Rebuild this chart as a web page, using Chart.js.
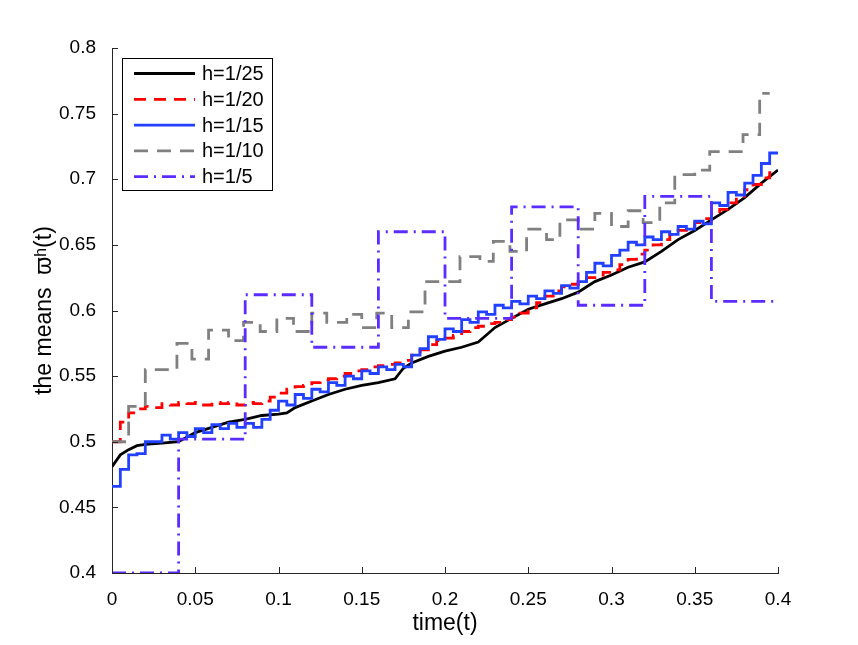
<!DOCTYPE html>
<html>
<head>
<meta charset="utf-8">
<script src="https://cdn.jsdelivr.net/npm/chart.js@4.4.0/dist/chart.umd.min.js"></script>
<style>body{margin:0;background:#fff}</style>
</head>
<body>
<canvas id="c" width="858" height="645"></canvas>
<script>
// series names
const seriesNames = ['h=1/25', 'h=1/20', 'h=1/15', 'h=1/10', 'h=1/5'];

// axis ticks
const xTicks = [0, 0.05, 0.1, 0.15, 0.2, 0.25, 0.3, 0.35, 0.4];
const yTicks = [0.4, 0.45, 0.5, 0.55, 0.6, 0.65, 0.7, 0.75, 0.8];

// h=1/25 (black, solid)
const tBlack = [0, 0.005, 0.01, 0.015, 0.02, 0.03, 0.04, 0.05, 0.06, 0.07, 0.08, 0.09, 0.1, 0.105,
  0.11, 0.12, 0.13, 0.14, 0.15, 0.16, 0.17, 0.175, 0.18, 0.19, 0.2, 0.21, 0.22, 0.23, 0.24, 0.25,
  0.26, 0.27, 0.28, 0.29, 0.3, 0.31, 0.32, 0.33, 0.34, 0.35, 0.36, 0.37, 0.38, 0.39, 0.4];
const vBlack = [0.481, 0.490, 0.494, 0.497, 0.498, 0.499, 0.500, 0.507, 0.511, 0.515, 0.517, 0.520, 0.521, 0.522,
  0.526, 0.531, 0.536, 0.540, 0.543, 0.545, 0.548, 0.556, 0.560, 0.565, 0.569, 0.572, 0.576, 0.587, 0.594, 0.601,
  0.605, 0.609, 0.614, 0.622, 0.627, 0.633, 0.637, 0.645, 0.654, 0.661, 0.669, 0.677, 0.686, 0.697, 0.707];

// h=1/20 and h=1/15 sampled every 0.005
const tFine = [0, 0.005, 0.01, 0.015, 0.02, 0.025, 0.03, 0.035, 0.04, 0.045, 0.05, 0.055, 0.06, 0.065,
  0.07, 0.075, 0.08, 0.085, 0.09, 0.095, 0.1, 0.105, 0.11, 0.115, 0.12, 0.125, 0.13, 0.135, 0.14, 0.145,
  0.15, 0.155, 0.16, 0.165, 0.17, 0.175, 0.18, 0.185, 0.19, 0.195, 0.2, 0.205, 0.21, 0.215, 0.22, 0.225,
  0.23, 0.235, 0.24, 0.245, 0.25, 0.255, 0.26, 0.265, 0.27, 0.275, 0.28, 0.285, 0.29, 0.295, 0.3, 0.305,
  0.31, 0.315, 0.32, 0.325, 0.33, 0.335, 0.34, 0.345, 0.35, 0.355, 0.36, 0.365, 0.37, 0.375, 0.38, 0.385,
  0.39, 0.395, 0.4];
const vRed = [0.500, 0.515, 0.522, 0.525, 0.527, 0.526, 0.529, 0.528, 0.530, 0.529, 0.530, 0.528, 0.530, 0.529,
  0.530, 0.528, 0.530, 0.529, 0.531, 0.534, 0.537, 0.540, 0.542, 0.543, 0.545, 0.547, 0.548, 0.550, 0.552, 0.554,
  0.555, 0.557, 0.558, 0.559, 0.560, 0.562, 0.566, 0.570, 0.574, 0.577, 0.579, 0.581, 0.584, 0.587, 0.588, 0.590,
  0.591, 0.593, 0.595, 0.598, 0.602, 0.606, 0.611, 0.615, 0.618, 0.620, 0.622, 0.625, 0.627, 0.629, 0.631, 0.635,
  0.639, 0.643, 0.646, 0.650, 0.654, 0.658, 0.661, 0.664, 0.667, 0.670, 0.674, 0.677, 0.682, 0.687, 0.692, 0.696,
  0.701, 0.705, 0.706];
const vBlue = [0.466, 0.479, 0.490, 0.491, 0.500, 0.500, 0.505, 0.502, 0.507, 0.504, 0.510, 0.507, 0.513, 0.510,
  0.514, 0.511, 0.514, 0.511, 0.517, 0.524, 0.531, 0.528, 0.536, 0.533, 0.540, 0.538, 0.545, 0.543, 0.550, 0.548,
  0.554, 0.552, 0.557, 0.555, 0.559, 0.557, 0.566, 0.571, 0.580, 0.578, 0.586, 0.584, 0.593, 0.591, 0.599, 0.597,
  0.604, 0.602, 0.607, 0.605, 0.611, 0.609, 0.615, 0.613, 0.619, 0.617, 0.622, 0.629, 0.636, 0.634, 0.642, 0.646,
  0.652, 0.650, 0.656, 0.654, 0.660, 0.658, 0.664, 0.662, 0.668, 0.666, 0.682, 0.680, 0.690, 0.688, 0.697, 0.703,
  0.712, 0.720, 0.720];

// h=1/10 (gray, dashed) step points
const tGray = [0, 0.01, 0.02, 0.039, 0.048, 0.058, 0.07, 0.079, 0.089, 0.099, 0.109, 0.12, 0.129, 0.141,
  0.15, 0.159, 0.168, 0.178, 0.188, 0.209, 0.221, 0.229, 0.239, 0.249, 0.261, 0.269, 0.28, 0.29, 0.3,
  0.31, 0.319, 0.329, 0.338, 0.35, 0.359, 0.379, 0.389, 0.395];
const vGray = [0.500, 0.527, 0.555, 0.575, 0.563, 0.585, 0.577, 0.591, 0.584, 0.594, 0.584, 0.598, 0.591, 0.597,
  0.587, 0.598, 0.587, 0.599, 0.622, 0.641, 0.6375, 0.6527, 0.645, 0.662, 0.654, 0.669, 0.662, 0.674, 0.664,
  0.676, 0.667, 0.682, 0.7035, 0.707, 0.721, 0.734, 0.7655, 0.7655];

// h=1/5 (purple, dash-dot) step points
const tPurple = [0, 0.04, 0.08, 0.12, 0.16, 0.2, 0.24, 0.28, 0.32, 0.36, 0.4];
const vPurple = [0.4, 0.502, 0.612, 0.572, 0.66, 0.594, 0.679, 0.604, 0.687, 0.607, 0.607];

const FONT = 'Liberation Sans, Arial, Helvetica, sans-serif';
const AXIS = '#262626';

function pts(ts, vs) {
  return ts.map((t, i) => ({x: t, y: vs[i]}));
}

const colors = ['#000000', '#ff0000', '#2140ff', '#808080', '#5b2cff'];
const dashes = [[], [12, 8], [], [14, 9], [14, 6, 2, 6]];

// 'before' in Chart.js: hold the previous value until the next x, then jump
const datasets = [
  {data: pts(tBlack, vBlack), stepped: false},
  {data: pts(tFine, vRed), stepped: 'before'},
  {data: pts(tFine, vBlue), stepped: 'before'},
  {data: pts(tGray, vGray), stepped: 'before'},
  {data: pts(tPurple, vPurple), stepped: 'before'}
].map((d, i) => Object.assign(d, {
  label: seriesNames[i],
  borderColor: colors[i],
  borderDash: dashes[i],
  borderWidth: 2.8,
  pointRadius: 0,
  fill: false,
  order: 5 - i
}));

const fmt = v => String(+(+v).toFixed(2));

// MATLAB-like inward tick marks
const inwardTicks = {
  id: 'inwardTicks',
  afterDatasetsDraw(chart) {
    const {ctx, chartArea: a, scales: {x, y}} = chart;
    ctx.save();
    ctx.strokeStyle = AXIS;
    ctx.lineWidth = 1;
    ctx.beginPath();
    x.ticks.forEach(t => {
      const px = Math.round(x.getPixelForValue(t.value)) + 0.5;
      ctx.moveTo(px, a.bottom); ctx.lineTo(px, a.bottom - 6);
    });
    y.ticks.forEach(t => {
      const py = Math.round(y.getPixelForValue(t.value)) + 0.5;
      ctx.moveTo(a.left, py); ctx.lineTo(a.left + 6, py);
    });
    ctx.stroke();
    ctx.restore();
  }
};

// boxed legend inside the plot, top left
const boxLegend = {
  id: 'boxLegend',
  afterDraw(chart) {
    const {ctx, chartArea: a} = chart;
    const left = a.left + 10, top = a.top + 10, w = 150, h = 132;
    ctx.save();
    ctx.fillStyle = '#fff';
    ctx.fillRect(left, top, w, h);
    ctx.strokeStyle = '#000';
    ctx.lineWidth = 1;
    ctx.strokeRect(left + 0.5, top + 0.5, w, h);
    ctx.font = '20px ' + FONT;
    ctx.textBaseline = 'middle';
    chart.data.datasets.forEach((ds, i) => {
      const cy = top + 15.5 + i * 25.8;
      ctx.beginPath();
      ctx.strokeStyle = ds.borderColor;
      ctx.lineWidth = ds.borderWidth;
      ctx.setLineDash(ds.borderDash);
      ctx.moveTo(left + 12, cy);
      ctx.lineTo(left + 73, cy);
      ctx.stroke();
      ctx.setLineDash([]);
      ctx.fillStyle = '#000';
      ctx.fillText(ds.label, left + 80, cy + 1);
    });
    ctx.restore();
  }
};

new Chart(document.getElementById('c'), {
  type: 'line',
  data: {datasets},
  plugins: [inwardTicks, boxLegend],
  options: {
    responsive: false,
    animation: false,
    layout: {padding: {left: 22, right: 80, top: 48, bottom: 0}},
    plugins: {legend: {display: false}, tooltip: {enabled: false}},
    scales: {
      x: {
        type: 'linear',
        min: 0, max: 0.4,
        afterFit: s => { s.height = 72; },
        afterBuildTicks: s => { s.ticks = xTicks.map(v => ({value: v})); },
        grid: {display: false},
        border: {display: true, color: AXIS, width: 1},
        ticks: {color: '#000', font: {family: FONT, size: 19}, padding: 7, maxRotation: 0, callback: fmt},
        title: {display: true, text: 'time(t)', color: '#000', font: {family: FONT, size: 23}, padding: {top: 0, bottom: 8}}
      },
      y: {
        type: 'linear',
        min: 0.4, max: 0.8,
        afterFit: s => { s.width = 90; },
        afterBuildTicks: s => { s.ticks = yTicks.map(v => ({value: v})); },
        grid: {display: false},
        border: {display: true, color: AXIS, width: 1},
        ticks: {color: '#000', font: {family: FONT, size: 19}, padding: 8, callback: fmt},
        title: {display: true, text: 'the means  ϖʰ(t)', color: '#000', font: {family: FONT, size: 23}, padding: {top: 9, bottom: 0}}
      }
    }
  }
});
</script>
</body>
</html>
